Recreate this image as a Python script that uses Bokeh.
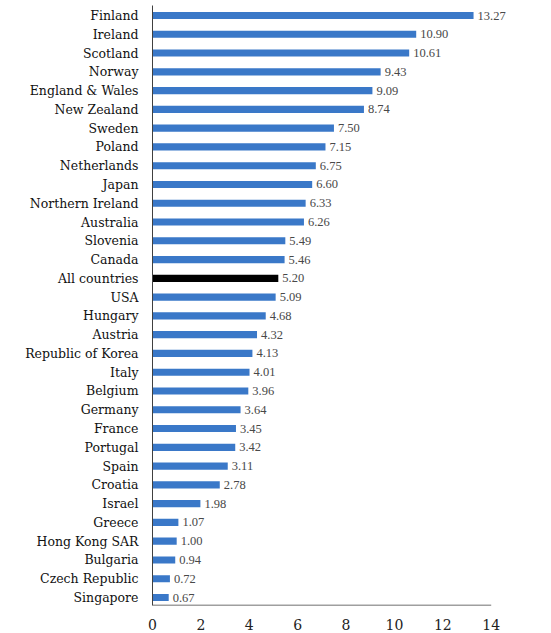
from bokeh.plotting import figure
from bokeh.models import ColumnDataSource, Range1d, FixedTicker, LabelSet
from bokeh.embed import file_html
from bokeh.resources import INLINE

countries = ["Finland", "Ireland", "Scotland", "Norway", "England & Wales", "New Zealand",
             "Sweden", "Poland", "Netherlands", "Japan", "Northern Ireland", "Australia",
             "Slovenia", "Canada", "All countries", "USA", "Hungary", "Austria",
             "Republic of Korea", "Italy", "Belgium", "Germany", "France", "Portugal",
             "Spain", "Croatia", "Israel", "Greece", "Hong Kong SAR", "Bulgaria",
             "Czech Republic", "Singapore"]
values = [13.27, 10.90, 10.61, 9.43, 9.09, 8.74, 7.50, 7.15, 6.75, 6.60, 6.33, 6.26,
          5.49, 5.46, 5.20, 5.09, 4.68, 4.32, 4.13, 4.01, 3.96, 3.64, 3.45, 3.42,
          3.11, 2.78, 1.98, 1.07, 1.00, 0.94, 0.72, 0.67]
x_ticks = [0, 2, 4, 6, 8, 10, 12, 14]
x_min, x_max = 0, 14

FONT = "DejaVu Serif"

n = len(countries)
ypos = [n - 1 - i for i in range(n)]
colors = ["#000000" if c == "All countries" else "#3A78C8" for c in countries]
labels = ["%.2f" % v for v in values]

src = ColumnDataSource(dict(y=ypos, v=values, c=colors, lab=labels, name=countries))

y_lo, y_hi = -0.426, n - 1 + 0.533
p = figure(width=551, height=633, output_backend="svg", toolbar_location=None,
           x_range=Range1d(0, 15.5), y_range=Range1d(y_lo, y_hi),
           min_border_left=152, min_border_right=24, min_border_top=5,
           min_border_bottom=28)
p.hbar(y="y", left=0, right="v", height=0.38, fill_color="c", line_color=None, source=src)

# x axis baseline spanning the tick range only
p.segment(x0=[x_min], y0=[y_lo], x1=[x_max], y1=[y_lo], line_color="#404040", line_width=1.5)

lbl = LabelSet(x="v", y="y", text="lab", source=src, x_offset=4, text_baseline="middle",
               text_font=FONT, text_font_size="12.5px", text_color="#484848")
p.add_layout(lbl)

p.outline_line_color = None
p.grid.visible = False
p.background_fill_color = "white"

p.xaxis.ticker = FixedTicker(ticks=x_ticks)
p.xaxis.major_tick_line_color = None
p.xaxis.minor_tick_line_color = None
p.xaxis.axis_line_color = None
p.xaxis.major_label_text_font = FONT
p.xaxis.major_label_text_font_size = "14px"
p.xaxis.major_label_text_color = "#222222"
p.xaxis.major_label_standoff = 7

p.yaxis.ticker = FixedTicker(ticks=ypos)
p.yaxis.major_label_overrides = {y: c for y, c in zip(ypos, countries)}
p.yaxis.major_tick_line_color = None
p.yaxis.minor_tick_line_color = None
p.yaxis.axis_line_color = "#404040"
p.yaxis.major_label_text_font = FONT
p.yaxis.major_label_text_font_size = "12.5px"
p.yaxis.major_label_text_color = "#111111"
p.yaxis.major_label_standoff = 8

open("out.html", "w").write(file_html(p, INLINE))
